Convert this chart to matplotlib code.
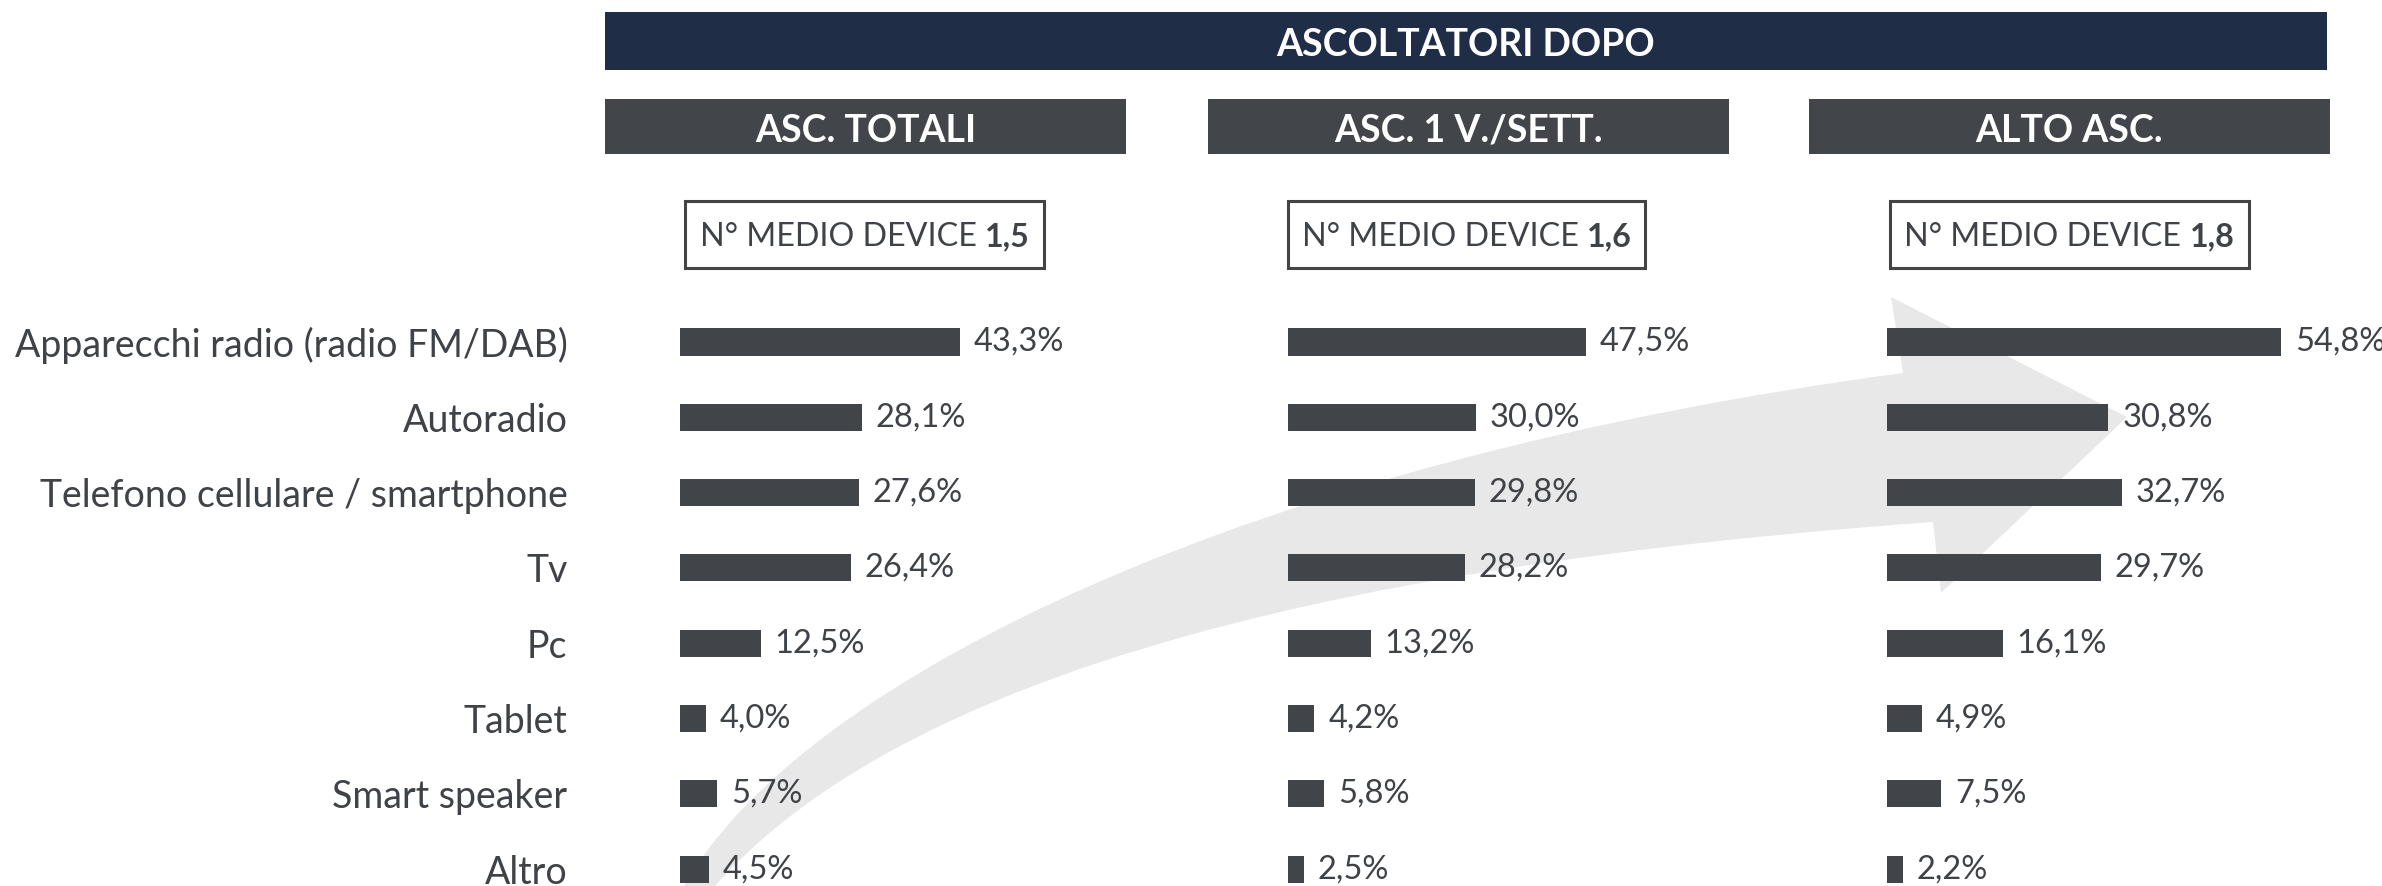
import matplotlib
matplotlib.use("Agg")
import matplotlib.pyplot as plt
from matplotlib.patches import Rectangle, PathPatch
from matplotlib.path import Path

plt.rcParams['font.family'] = ['Lato', 'DejaVu Sans']

# ---- data ----
categories = ["Apparecchi radio (radio FM/DAB)", "Autoradio",
              "Telefono cellulare / smartphone", "Tv", "Pc", "Tablet",
              "Smart speaker", "Altro"]
asc_totali = [43.3, 28.1, 27.6, 26.4, 12.5, 4.0, 5.7, 4.5]
asc_settimana = [47.5, 30.0, 29.8, 28.2, 13.2, 4.2, 5.8, 2.5]
alto_asc = [54.8, 30.8, 32.7, 29.7, 16.1, 4.9, 7.5, 2.2]

title = "ASCOLTATORI DOPO"
panel_titles = ["ASC. TOTALI", "ASC. 1 V./SETT.", "ALTO ASC."]
device_means = ["1,5", "1,6", "1,8"]

# ---- layout (pixels of the 2382x886 picture) ----
W, H = 2382, 886
BAR_COLOR = "#414449"
TEXT_COLOR = "#3f4246"
NAVY = "#1f2d47"
HEAD_GREY = "#424549"
ARROW_GREY = "#e8e8e8"

bar_starts = [680, 1288, 1887]
px_per_pct = [6.47, 6.27, 7.19]
header_x = [(605, 1126), (1208, 1729), (1809, 2330)]
box_x = [(685, 1044), (1288, 1645), (1890, 2249)]
row0, row_step = 342, 75.3
XMAX = 60


def fx(px):
    return px / W


def fy(py):
    return 1 - py / H


fig = plt.figure(figsize=(W / 100, H / 100), dpi=100)

# big curved arrow in the background
arrow_pts = [(684, 886), (800, 680), (1250, 460), (1903, 373),
             (1891, 297), (2127, 417), (1941, 593), (1933, 522),
             (1550, 550), (950, 620), (715, 886), (684, 886)]
codes = [Path.MOVETO, Path.CURVE4, Path.CURVE4, Path.CURVE4,
         Path.LINETO, Path.LINETO, Path.LINETO, Path.LINETO,
         Path.CURVE4, Path.CURVE4, Path.CURVE4, Path.CLOSEPOLY]
arrow = Path([(fx(x), fy(y)) for x, y in arrow_pts], codes)
fig.add_artist(PathPatch(arrow, facecolor=ARROW_GREY, edgecolor="none",
                         transform=fig.transFigure, zorder=-1))

# top title bar
fig.add_artist(Rectangle((fx(605), fy(70)), fx(2327) - fx(605), fy(12) - fy(70),
                         transform=fig.transFigure, facecolor=NAVY,
                         edgecolor="none"))
fig.text(fx((605 + 2327) / 2), fy(45), title, color="white", fontsize=27,
         fontweight="bold", ha="center", va="center")

renderer = fig.canvas.get_renderer()
series = [asc_totali, asc_settimana, alto_asc]

for i in range(3):
    # panel header
    x0, x1 = header_x[i]
    fig.add_artist(Rectangle((fx(x0), fy(154)), fx(x1) - fx(x0), fy(99) - fy(154),
                             transform=fig.transFigure, facecolor=HEAD_GREY,
                             edgecolor="none"))
    fig.text(fx((x0 + x1) / 2), fy(131), panel_titles[i], color="white",
             fontsize=27, fontweight="bold", ha="center", va="center")

    # box with the mean number of devices
    b0, b1 = box_x[i]
    fig.add_artist(Rectangle((fx(b0), fy(268)), fx(b1) - fx(b0), fy(201) - fy(268),
                             transform=fig.transFigure, facecolor="white",
                             edgecolor="#444444", linewidth=2.2))
    t1 = fig.text(0, fy(237), "N° MEDIO DEVICE ", color=TEXT_COLOR,
                  fontsize=23.2, ha="left", va="center")
    t2 = fig.text(0, fy(237), device_means[i], color=TEXT_COLOR,
                  fontsize=23.2, fontweight="bold", ha="left", va="center")
    w1 = t1.get_window_extent(renderer).width
    w2 = t2.get_window_extent(renderer).width
    left = (b0 + b1) / 2 - (w1 + w2) / 2
    t1.set_x(fx(left))
    t2.set_x(fx(left + w1))

    # bars
    ax_w = XMAX * px_per_pct[i]
    ax = fig.add_axes([fx(bar_starts[i]), 0, ax_w / W,
                       fy(row0 - row_step / 2)])
    ax.patch.set_visible(False)
    ypos = list(range(len(categories)))
    ax.barh(ypos, series[i], height=0.36, color=BAR_COLOR)
    ax.set_xlim(0, XMAX)
    ax.set_ylim((H - row0) / row_step, -0.5)
    for y, v in zip(ypos, series[i]):
        ax.annotate(f"{v:.1f}%".replace(".", ","), xy=(v, y),
                    xytext=(10, 0), textcoords="offset points",
                    ha="left", va="center", fontsize=23.5, color=TEXT_COLOR)
    for s in ax.spines.values():
        s.set_visible(False)
    ax.set_xticks([])
    if i == 0:
        ax.set_yticks(ypos)
        ax.set_yticklabels(categories, fontsize=27, color=TEXT_COLOR)
        ax.tick_params(axis="y", length=0, pad=81)
    else:
        ax.set_yticks([])

fig.savefig("out.png", dpi=100)
